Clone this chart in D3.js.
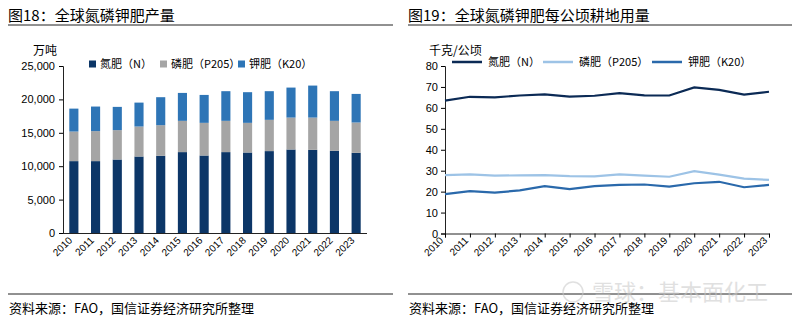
<!DOCTYPE html>
<html>
<head>
<meta charset="utf-8">
<script src="https://cdn.jsdelivr.net/npm/d3@7"></script>
<style>
	body { margin: 0; background: #fff; }
	svg text { font-family: "Noto Sans CJK SC", "Liberation Sans", sans-serif; fill: #000; }
	.num { font-family: "Liberation Sans", "DejaVu Sans", sans-serif; }
</style>
</head>
<body>
<svg id="chart" width="800" height="321"></svg>
<script>
var years = ['2010','2011','2012','2013','2014','2015','2016','2017','2018','2019','2020','2021','2022','2023'];

// 产量，万吨
var nOutput = [10760,10760,11000,11450,11560,12110,11600,12110,12050,12260,12500,12450,12300,12000];
var pOutput = [4430,4490,4400,4490,4580,4680,4890,4680,4440,4680,4780,4830,4490,4540];
var kOutput = [3430,3680,3480,3580,4190,4180,4180,4440,4590,4290,4490,4790,4440,4280];
var outputTicks = [0,5000,10000,15000,20000,25000];

// 每公顷耕地用量，千克/公顷
var nUse = [63.5,65.3,65.0,65.9,66.4,65.4,65.8,67.0,66.0,65.9,69.8,68.6,66.3,67.7];
var pUse = [27.9,28.2,27.6,27.8,27.9,27.4,27.3,28.2,27.6,27.1,29.8,28.1,26.2,25.6];
var kUse = [18.8,20.2,19.5,20.6,22.6,21.2,22.6,23.2,23.4,22.4,24.0,24.7,22.1,23.2];
var useTicks = [0,10,20,30,40,50,60,70,80];

var seriesNames = ['氮肥（N）','磷肥（P205）','钾肥（K20）'];
var barColors = ['#0c3667','#a5a5a5','#2e75b6'];
var lineColors = ['#0b2a55','#9dc3e6','#2a69ab'];

var svg = d3.select('#chart');

function frame(x0, x1, title) {
	svg.append('text').attr('x', x0).attr('y', 21).style('font-size', '15px').text(title);
	svg.append('line').attr('x1', x0).attr('x2', x1).attr('y1', 25).attr('y2', 25)
		.attr('stroke', '#222').attr('stroke-width', 1);
	svg.append('line').attr('x1', x0).attr('x2', x1).attr('y1', 294).attr('y2', 294)
		.attr('stroke', '#222').attr('stroke-width', 1);
	svg.append('text').attr('x', x0 + 1).attr('y', 313).style('font-size', '13px')
		.text('资料来源：FAO，国信证券经济研究所整理');
}

function rotatedLabels(g, xPos, y) {
	g.selectAll('text.yr').data(years).enter().append('text')
		.attr('class', 'yr num')
		.attr('text-anchor', 'end')
		.attr('transform', function(d){ return 'translate(' + (xPos(d) - 1) + ',' + y + ') rotate(-45)'; })
		.style('font-size', '10px')
		.text(function(d){ return d; });
}

// ---------- 图18 产量（堆积柱）
frame(8, 393, '图18：全球氮磷钾肥产量');

var left = svg.append('g');
var x1 = d3.scaleBand().domain(years).range([63, 367]).paddingInner(0.58).paddingOuter(0.29);
var y1 = d3.scaleLinear().domain([0, 25000]).range([233, 66]);

var stackRows = years.map(function(yr, i){ return { year: yr, n: nOutput[i], p: pOutput[i], k: kOutput[i] }; });
var stacked = d3.stack().keys(['n','p','k'])(stackRows);

left.selectAll('g.layer').data(stacked).enter().append('g')
	.attr('fill', function(d, i){ return barColors[i]; })
	.selectAll('rect').data(function(d){ return d; }).enter().append('rect')
	.attr('x', function(d){ return x1(d.data.year); })
	.attr('width', x1.bandwidth())
	.attr('y', function(d){ return y1(d[1]); })
	.attr('height', function(d){ return y1(d[0]) - y1(d[1]); });

var yAxis1 = left.append('g').attr('transform', 'translate(63,0)')
	.call(d3.axisLeft(y1).tickValues(outputTicks).tickSize(4).tickPadding(4).tickFormat(d3.format(',')));
yAxis1.select('.domain').attr('stroke', '#222');
yAxis1.selectAll('text').attr('class', 'num').style('font-size', '11px').attr('fill', '#000');

left.append('line').attr('x1', 63).attr('x2', 367).attr('y1', 233.5).attr('y2', 233.5).attr('stroke', '#222');
rotatedLabels(left, function(d){ return x1(d) + x1.bandwidth() / 2; }, 241);

left.append('text').attr('x', 45).attr('y', 55).attr('text-anchor', 'middle').style('font-size', '12px').text('万吨');

var legend1 = left.append('g').attr('transform', 'translate(0,64)');
var legX1 = [89, 160, 238];
seriesNames.forEach(function(name, i){
	legend1.append('rect').attr('x', legX1[i]).attr('y', -3.5).attr('width', 7).attr('height', 7).attr('fill', barColors[i]);
	legend1.append('text').attr('x', legX1[i] + 11).attr('y', 4).style('font-size', '11px').text(name);
});

// ---------- 图19 用量（折线）
frame(408, 792, '图19：全球氮磷钾肥每公顷耕地用量');

var right = svg.append('g');
var x2 = d3.scalePoint().domain(years).range([445, 769]);
var y2 = d3.scaleLinear().domain([0, 80]).range([233.5, 66]);

var yAxis2 = right.append('g').attr('transform', 'translate(445,0)')
	.call(d3.axisLeft(y2).tickValues(useTicks).tickSize(4).tickPadding(3));
yAxis2.select('.domain').attr('stroke', '#222');
yAxis2.selectAll('text').attr('class', 'num').style('font-size', '11px').attr('fill', '#000');

var xAxis2 = right.append('g').attr('transform', 'translate(0,233.5)')
	.call(d3.axisBottom(x2).tickSize(4).tickFormat(''));
xAxis2.select('.domain').attr('stroke', '#222');
rotatedLabels(right, x2, 241);

var line = d3.line()
	.x(function(d, i){ return x2(years[i]); })
	.y(function(d){ return y2(d); });

[nUse, pUse, kUse].forEach(function(vals, i){
	right.append('path').datum(vals)
		.attr('fill', 'none')
		.attr('stroke', lineColors[i])
		.attr('stroke-width', 2.2)
		.attr('d', line);
});

right.append('text').attr('x', 429).attr('y', 55).style('font-size', '12px').text('千克/公顷');

var legend2 = right.append('g').attr('transform', 'translate(0,62)');
var legX2 = [452, 543, 652];
seriesNames.forEach(function(name, i){
	legend2.append('line').attr('x1', legX2[i]).attr('x2', legX2[i] + 30).attr('y1', 0).attr('y2', 0)
		.attr('stroke', lineColors[i]).attr('stroke-width', 2.5);
	legend2.append('text').attr('x', legX2[i] + 36).attr('y', 4).style('font-size', '11px').text(name);
});

// 水印
var wm = svg.append('g').attr('opacity', 0.55);
wm.append('circle').attr('cx', 573).attr('cy', 292).attr('r', 10).attr('fill', 'none').attr('stroke', '#c8c8c8').attr('stroke-width', 1.5);
wm.append('text').attr('x', 592).attr('y', 300).style('font-size', '22px').style('fill', '#c8c8c8').text('雪球：基本面化工');
</script>
</body>
</html>
